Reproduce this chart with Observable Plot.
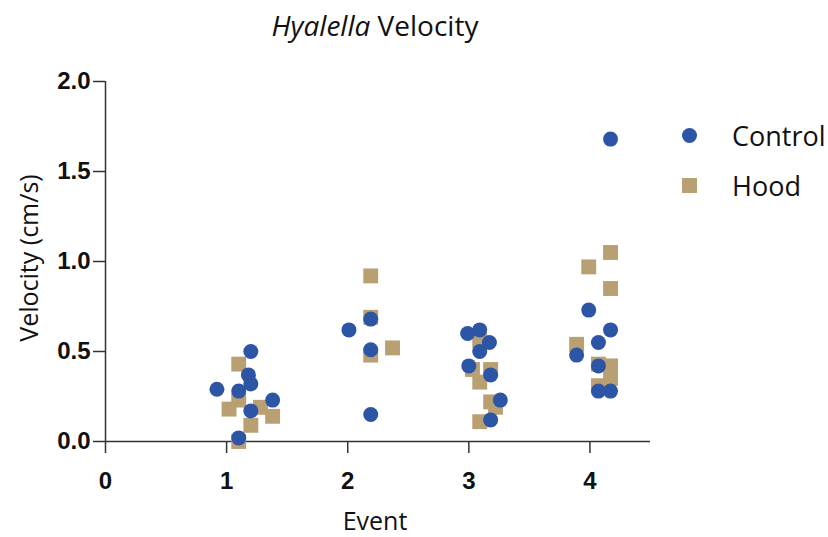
<!DOCTYPE html>
<html>
<head>
<meta charset="utf-8">
<script src="https://cdn.jsdelivr.net/npm/d3@7"></script>
<script src="https://cdn.jsdelivr.net/npm/@observablehq/plot@0.6"></script>
<style>
  html, body { margin: 0; padding: 0; background: #fff; }
  #wrap { position: relative; width: 828px; height: 537px; overflow: hidden; }
  .lbl { position: absolute; font-family: "Open Sans", sans-serif; color: #111; white-space: nowrap; }
  #title { left: 375px; top: 25px; font-size: 28px; transform: translate(-50%, -50%); }
  #ylab { left: 28px; top: 258px; font-size: 25px; transform: translate(-50%, -50%) rotate(-90deg); }
  #xlab { left: 375px; top: 520px; font-size: 25px; transform: translate(-50%, -50%); }
  .leg { position: absolute; left: 682px; display: flex; align-items: center; font-family: "Open Sans", sans-serif; font-size: 27px; color: #111; }
  .leg .sw { width: 15px; height: 15px; margin-right: 35px; }
</style>
</head>
<body>
<div id="wrap"></div>
<script>
// Tick values
const eventTicks = [0, 1, 2, 3, 4];
const velocityTicks = [0, 0.5, 1.0, 1.5, 2.0];

// Series names & colours
const seriesNames = ["Control", "Hood"];
const seriesColors = ["#2D55A6", "#B9A073"];

// Control (x = event position incl. spread, y = velocity cm/s)
const controlX = [1.20, 1.18, 1.20, 0.92, 1.10, 1.38, 1.20, 1.10,
                  2.19, 2.01, 2.19, 2.19,
                  2.99, 3.09, 3.17, 3.09, 3.00, 3.18, 3.26, 3.18,
                  4.17, 3.99, 4.17, 4.07, 3.89, 4.07, 4.07, 4.17];
const controlY = [0.50, 0.37, 0.32, 0.29, 0.28, 0.23, 0.17, 0.02,
                  0.68, 0.62, 0.51, 0.15,
                  0.60, 0.62, 0.55, 0.50, 0.42, 0.37, 0.23, 0.12,
                  1.68, 0.73, 0.62, 0.55, 0.48, 0.42, 0.28, 0.28];

// Hood
const hoodX = [1.10, 1.02, 1.10, 1.28, 1.38, 1.20, 1.10,
               2.19, 2.19, 2.19, 2.37,
               3.09, 3.03, 3.18, 3.09, 3.18, 3.22, 3.09,
               4.17, 3.99, 4.17, 3.89, 4.07, 4.17, 4.17, 4.07];
const hoodY = [0.43, 0.18, 0.23, 0.19, 0.14, 0.09, 0.00,
               0.92, 0.69, 0.48, 0.52,
               0.56, 0.40, 0.40, 0.33, 0.22, 0.19, 0.11,
               1.05, 0.97, 0.85, 0.54, 0.43, 0.42, 0.35, 0.31];

const control = controlX.map((x, i) => ({x, y: controlY[i]}));
const hood = hoodX.map((x, i) => ({x, y: hoodY[i]}));

const axisColor = "#333";

const chart = Plot.plot({
  width: 828,
  height: 537,
  marginLeft: 105,
  marginRight: 178,
  marginTop: 81,
  marginBottom: 96,
  x: {domain: [0, 4.5]},
  y: {domain: [0, 2]},
  style: {fontFamily: "'Liberation Sans', Arial, sans-serif", fontSize: "24px", color: "#111", background: "#fff"},
  marks: [
    Plot.axisY(velocityTicks, {tickFormat: d3.format(".1f"), tickSize: 12, tickPadding: 3, label: null,
      fontWeight: "bold", fontSize: 24, stroke: axisColor, strokeWidth: 1.5, strokeOpacity: 1}),
    Plot.axisX(eventTicks, {tickFormat: d3.format("d"), tickSize: 12, tickPadding: 18, label: null,
      fontWeight: "bold", fontSize: 24, stroke: axisColor, strokeWidth: 1.5, strokeOpacity: 1}),
    Plot.ruleX([0], {y1: 0, y2: 2, stroke: axisColor, strokeWidth: 1.5}),
    Plot.ruleY([0], {x1: 0, x2: 4.5, stroke: axisColor, strokeWidth: 1.5}),
    Plot.dot(hood, {x: "x", y: "y", symbol: "square", r: 8.4, fill: seriesColors[1]}),
    Plot.dot(control, {x: "x", y: "y", symbol: "circle", r: 7.5, fill: seriesColors[0]})
  ]
});

const wrap = document.getElementById("wrap");
wrap.appendChild(chart);

function addLabel(id, html) {
  const d = document.createElement("div");
  d.className = "lbl"; d.id = id; d.innerHTML = html;
  wrap.appendChild(d);
}
addLabel("title", "<i>Hyalella</i> Velocity");
addLabel("ylab", "Velocity (cm/s)");
addLabel("xlab", "Event");

seriesNames.forEach((name, i) => {
  const row = document.createElement("div");
  row.className = "leg";
  row.style.top = (i === 0 ? 117 : 167) + "px";
  const sw = document.createElement("span");
  sw.className = "sw";
  sw.style.background = seriesColors[i];
  if (i === 0) sw.style.borderRadius = "50%";
  row.appendChild(sw);
  const t = document.createElement("span");
  t.textContent = name;
  row.appendChild(t);
  wrap.appendChild(row);
});
</script>
</body>
</html>
